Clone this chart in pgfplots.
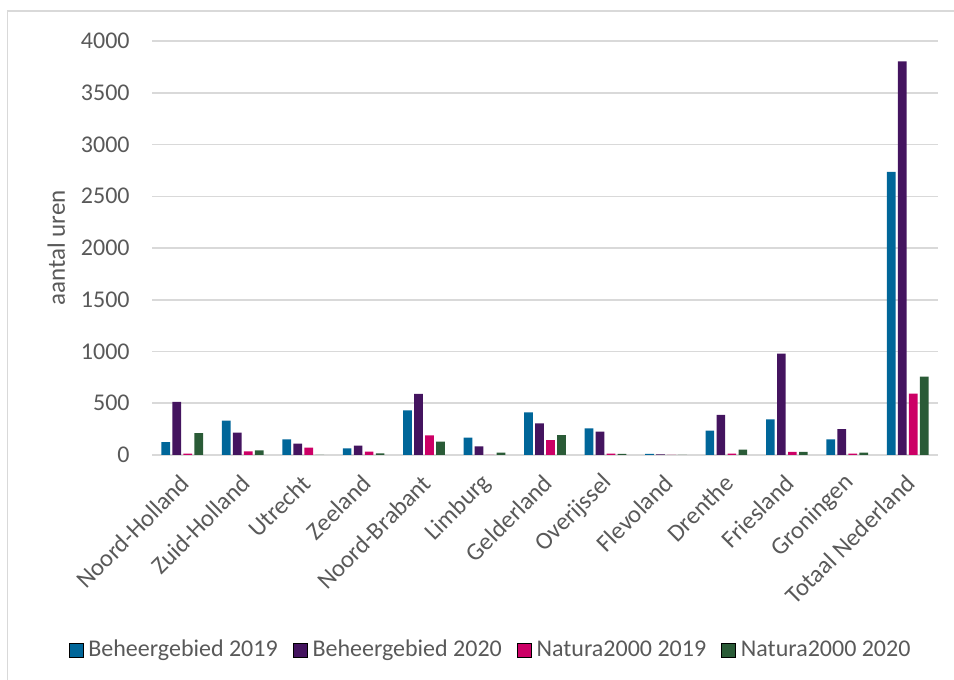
\documentclass[border=0pt]{standalone}
\usepackage{fontspec}
\setmainfont{Carlito}
\usepackage{pgfplots}
\pgfplotsset{compat=1.18}

\definecolor{cBlue}{HTML}{006699}
\definecolor{cPurple}{HTML}{44145F}
\definecolor{cPink}{HTML}{CC0066}
\definecolor{cGreen}{HTML}{2A5B37}
\definecolor{txtgray}{HTML}{595959}
\definecolor{gridgray}{HTML}{D9D9D9}

\begin{document}
\begin{tikzpicture}
\useasboundingbox (0,0) rectangle (477pt,340pt);
% chart area frame (cut at right and bottom in the reference)
\draw[gridgray, line width=0.8pt] (3.75pt,-2pt) -- (3.75pt,334.5pt) -- (480pt,334.5pt);
\begin{axis}[
  at={(76pt,112.5pt)}, anchor=south west,
  scale only axis, width=393pt, height=207pt,
  ybar=1.15pt, bar width=4.35pt,
  xmin=-0.5, xmax=12.5, ymin=0, ymax=4000,
  xtick={0,...,12},
  xticklabels={Noord-Holland,Zuid-Holland,Utrecht,Zeeland,Noord-Brabant,Limburg,Gelderland,Overijssel,Flevoland,Drenthe,Friesland,Groningen,Totaal Nederland},
  ytick={0,500,...,4000},
  ymajorgrids,
  grid style={draw=gridgray, line width=0.75pt},
  axis line style={draw=none},
  major tick length=0pt,
  /pgf/number format/assume math mode=true,
  /pgf/number format/1000 sep={},
  tick label style={font=\fontsize{12}{14}\selectfont, text=txtgray},
  yticklabel style={anchor=east, inner sep=0pt, xshift=-11pt},
  xticklabel style={yshift=-12pt, xshift=1.5pt, rotate=45, anchor=east, inner sep=0pt,
    font=\fontsize{12.3}{14}\selectfont},
  ylabel={aantal uren},
  ylabel style={at={(axis description cs:-0.11,0.5)}, anchor=south, inner sep=0pt,
    font=\fontsize{12.5}{14}\selectfont, text=txtgray},
  legend columns=4,
  legend style={at={(axis description cs:0.4326,-0.471)}, anchor=center, draw=none, fill=none,
    font=\fontsize{12}{14}\selectfont, text=txtgray,
    nodes={inner xsep=2.5pt, inner ysep=0pt},
    /tikz/every even column/.append style={column sep=5pt}},
  legend image code/.code={\draw[#1] (0pt,-3.5pt) rectangle (7pt,3.5pt);},
]
\addplot[fill=cBlue, draw=none] coordinates {
 (0,125) (1,333) (2,151) (3,64) (4,430) (5,167) (6,413) (7,257) (8,10) (9,235) (10,344) (11,151) (12,2736)};
\addplot[fill=cPurple, draw=none] coordinates {
 (0,513) (1,215) (2,110) (3,90) (4,590) (5,84) (6,305) (7,225) (8,5) (9,388) (10,980) (11,251) (12,3802)};
\addplot[fill=cPink, draw=none] coordinates {
 (0,13) (1,35) (2,71) (3,33) (4,189) (5,0) (6,144) (7,13) (8,0) (9,13) (10,29) (11,13) (12,593)};
\addplot[fill=cGreen, draw=none] coordinates {
 (0,211) (1,45) (2,0) (3,16) (4,129) (5,23) (6,192) (7,10) (8,0) (9,51) (10,29) (11,22) (12,757)};
\legend{Beheergebied 2019,Beheergebied 2020,Natura2000 2019,Natura2000 2020}
\end{axis}
\end{tikzpicture}
\end{document}
